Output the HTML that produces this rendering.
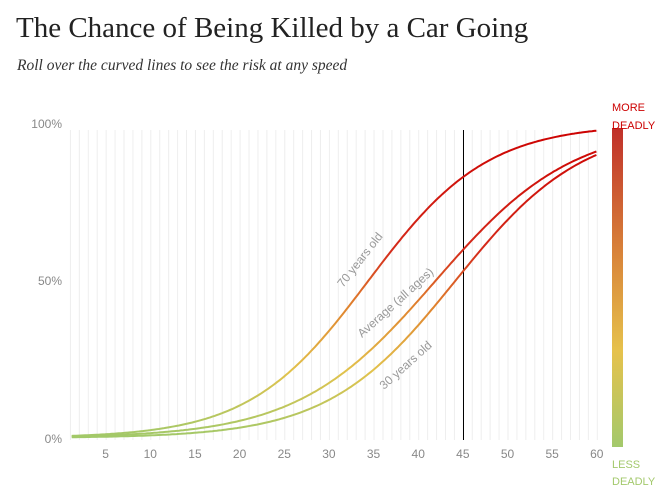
<!DOCTYPE html>
<html><head><meta charset="utf-8"><style>
body{margin:0;background:#fff;width:663px;height:490px;overflow:hidden;font-family:"Liberation Sans",sans-serif}
h1{position:absolute;left:16px;top:12px;margin:0;font:400 29px "Liberation Serif",serif;color:#222}
.sub{position:absolute;left:17px;top:57px;font:italic 15.5px "Liberation Serif",serif;color:#333}
</style></head><body>
<h1>The Chance of Being Killed by a Car Going</h1>
<div class="sub">Roll over the curved lines to see the risk at any speed</div>
<svg id="s" width="663" height="490" style="position:absolute;left:0;top:0">
<defs>
<linearGradient id="g" gradientUnits="userSpaceOnUse" x1="0" y1="440" x2="0" y2="124">
<stop offset="0" stop-color="#9fc96a"/><stop offset="0.22" stop-color="#e2c24c"/><stop offset="0.42" stop-color="#e0842e"/><stop offset="0.6" stop-color="#d42a1a"/><stop offset="1" stop-color="#cc0000"/>
</linearGradient>
<linearGradient id="b" x1="0" y1="1" x2="0" y2="0">
<stop offset="0" stop-color="#a3c96c"/><stop offset="0.3" stop-color="#e6c24c"/><stop offset="0.6" stop-color="#d9853a"/><stop offset="1" stop-color="#c0302a"/>
</linearGradient>
</defs>
<g id="grid" stroke="#eeeeee" stroke-width="1"></g>
<g font-size="12" fill="#888" text-anchor="end">
<text x="62" y="128">100%</text><text x="62" y="285">50%</text><text x="62" y="443">0%</text>
</g>
<g id="xt" font-size="12" fill="#888" text-anchor="middle"></g>
<line x1="463.5" y1="130" x2="463.5" y2="440" stroke="#000" stroke-width="1"/>
<g id="curves" fill="none" stroke="url(#g)" stroke-width="2"></g>
<g font-size="12" fill="#999">
<text transform="translate(343,288) rotate(-52)">70 years old</text>
<text transform="translate(362,338) rotate(-42)">Average (all ages)</text>
<text transform="translate(384,390) rotate(-42)">30 years old</text>
</g>
<rect x="612" y="128" width="11" height="319" fill="url(#b)"/>
<g font-size="11">
<text x="612" y="111" fill="#cc0000">MORE</text><text x="612" y="129" fill="#cc0000">DEADLY</text>
<text x="612" y="468" fill="#a3c96c">LESS</text><text x="612" y="485" fill="#a3c96c">DEADLY</text>
</g>
</svg>
<script>
var X=function(s){return 61+s*8.93},Y=function(p){return 438-p*314};
var ns="http://www.w3.org/2000/svg",gr=document.getElementById("grid");
for(var i=1;i<=60;i++){var l=document.createElementNS(ns,"line");l.setAttribute("x1",X(i)+.5);l.setAttribute("x2",X(i)+.5);l.setAttribute("y1",130);l.setAttribute("y2",440);gr.appendChild(l);}
var xt=document.getElementById("xt");
for(var i=5;i<=60;i+=5){var t=document.createElementNS(ns,"text");t.setAttribute("x",X(i));t.setAttribute("y",458);t.textContent=i;xt.appendChild(t);}
var cs=[[-5.16,0.15],[-5.45,0.13],[-6.18,0.14]],cv=document.getElementById("curves");
cs.forEach(function(c){var d="";for(var s=1.2;s<=60.01;s+=0.25){var p=1/(1+Math.exp(-(c[0]+c[1]*s)));d+=(d?"L":"M")+X(s).toFixed(1)+","+Y(p).toFixed(1);}
var pa=document.createElementNS(ns,"path");pa.setAttribute("d",d);cv.appendChild(pa);});
</script>
</body></html>
